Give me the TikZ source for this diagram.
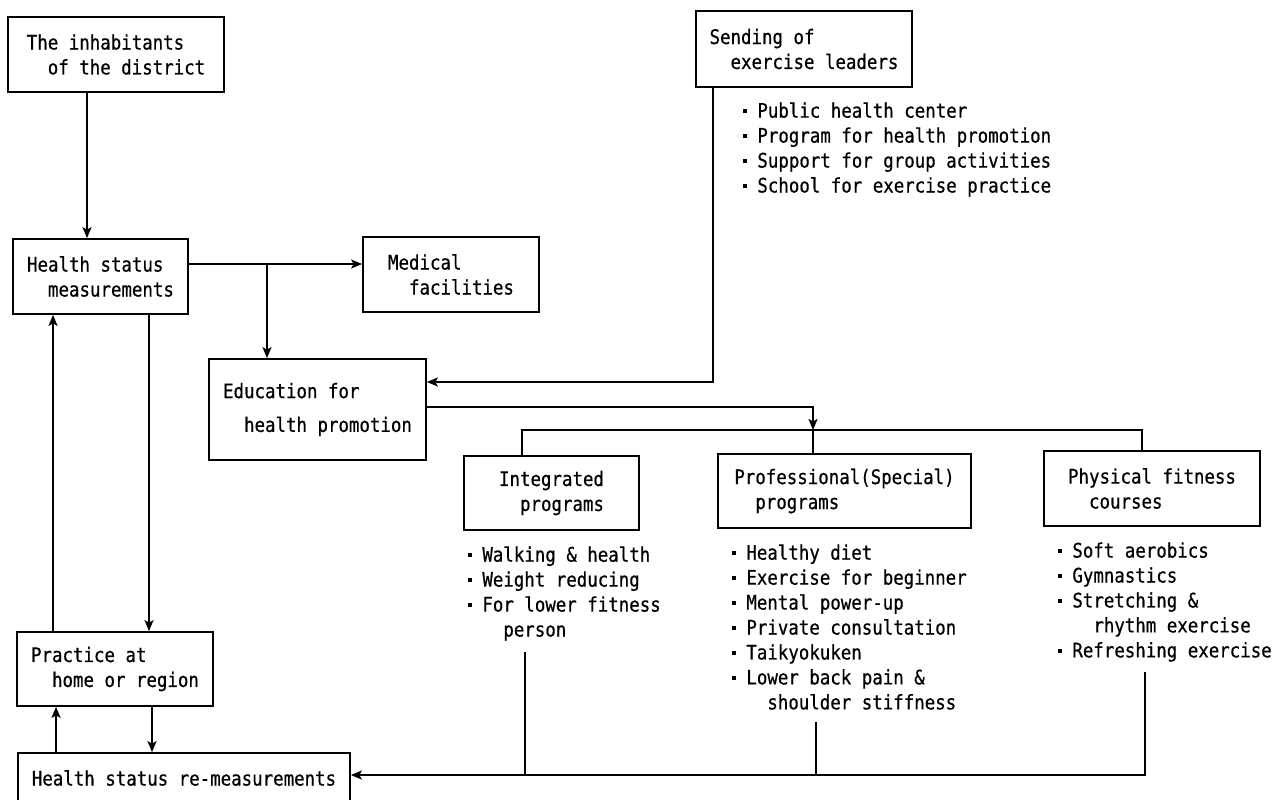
\documentclass[tikz,border=0pt]{standalone}
\usepackage{fontspec}
\newfontfamily\gothic[FakeStretch=0.87, FakeBold=0.6]{DejaVu Sans Mono}
\usetikzlibrary{arrows.meta}
\newcommand{\ind}{\phantom{xx}}
\newcommand{\bul}{\makebox[9.7pt][l]{\hspace{1.6pt}\raisebox{2.6pt}{\rule{2.1pt}{2.1pt}}}}
\newcommand{\cont}{\hspace*{9.7pt}\ind}
\begin{document}
\begin{tikzpicture}[x=0.02cm, y=-0.02cm,
  % Box and list styles
  box/.style={rectangle, draw, line width=1pt, inner sep=0pt, align=left, font=\gothic\fontsize{11.4}{14.2}\selectfont},
  items/.style={inner sep=0pt, anchor=north west, align=left, font=\gothic\fontsize{11.4}{14.2}\selectfont},
  % Connector styles
  link/.style={line width=1pt},
  arr/.style={line width=1pt, -{Stealth[length=2.2mm, width=1.8mm, inset=0.5mm]}}
]
\useasboundingbox (0,0) rectangle (1274,799);
\clip (0,0) rectangle (1274,799);

% Layer 1: Boxes
\node[box, minimum width=4.32cm, minimum height=1.5cm] (inhab) at (116,54.5) {The inhabitants\\\ind of the district};
\node[box, minimum width=3.5cm, minimum height=1.5cm] (health) at (100.5,276.5) {Health status\\\ind measurements};
\node[box, minimum width=3.52cm, minimum height=1.5cm] (medical) at (451,274.5) {Medical\\\ind facilities};
\node[box, minimum width=4.34cm, minimum height=2.02cm] (educ) at (317.5,409.5) {Education for\\[5pt]\ind health promotion};
\node[box, minimum width=4.32cm, minimum height=1.52cm] (sending) at (804,49) {Sending of\\\ind exercise leaders};
\node[box, minimum width=3.92cm, minimum height=1.48cm] (practice) at (115,669) {Practice at\\\ind home or region};
\node[box, minimum width=6.64cm, minimum height=1cm] (remeas) at (184,778) {Health status re-measurements};
\node[box, minimum width=3.5cm, minimum height=1.48cm] (integ) at (551.5,493) {Integrated\\\ind programs};
\node[box, minimum width=5.06cm, minimum height=1.48cm] (prof) at (844.5,491) {Professional(Special)\\\ind programs};
\node[box, minimum width=4.32cm, minimum height=1.5cm] (phys) at (1152,488.5) {Physical fitness\\\ind courses};

% Layer 2: Item lists
\node[items] (sendlist) at (740,102) {\bul Public health center\\\bul Program for health promotion\\\bul Support for group activities\\\bul School for exercise practice};
\node[items] (intlist) at (465,546) {\bul Walking \& health\\\bul Weight reducing\\\bul For lower fitness\\\cont person};
\node[items] (proflist) at (729,544) {\bul Healthy diet\\\bul Exercise for beginner\\\bul Mental power-up\\\bul Private consultation\\\bul Taikyokuken\\\bul Lower back pain \&\\\cont shoulder stiffness};
\node[items] (physlist) at (1055,542) {\bul Soft aerobics\\\bul Gymnastics\\\bul Stretching \&\\\cont rhythm exercise\\\bul Refreshing exercise};

% Layer 3: Junction points
\coordinate (split) at (267,264);
\coordinate (hub) at (813,430);
\coordinate (intdrop) at (525,652);
\coordinate (profdrop) at (816,722);
\coordinate (physdrop) at (1145,672);
\coordinate (join) at (1145,775);

% Layer 4: Connectors
\draw[arr] ([xshift=-0.58cm]inhab.south) -- ([xshift=-0.27cm]health.north);
\draw[arr] ([yshift=0.25cm]health.east) -- ([yshift=0.21cm]medical.west);
\draw[arr] (split) -- (split |- educ.north);
\draw[arr] ([xshift=-1.82cm]sending.south) |- ([yshift=0.55cm]educ.east);
\draw[arr] ([yshift=0.05cm]educ.east) -| (hub);
\draw[link] ([xshift=-0.59cm]integ.north) |- (hub) -| ([xshift=-0.2cm]phys.north);
\draw[link] (hub) -- (hub |- prof.north);

% Loop between measurement and practice
\draw[arr] ([xshift=0.97cm]health.south) -- ([xshift=0.68cm]practice.north);
\draw[arr] ([xshift=-1.24cm]practice.north) -- ([xshift=-0.95cm]health.south);
\draw[arr] ([xshift=0.74cm]practice.south) -- ([xshift=-0.64cm]remeas.north);
\draw[arr] ([xshift=-2.56cm]remeas.north) -- ([xshift=-1.18cm]practice.south);

% Programs back to re-measurement
\draw[link] (intdrop) -- (intdrop |- join);
\draw[link] (profdrop) -- (profdrop |- join);
\draw[arr] (physdrop) -- (join) -- ([yshift=0.06cm]remeas.east);

\end{tikzpicture}
\end{document}
